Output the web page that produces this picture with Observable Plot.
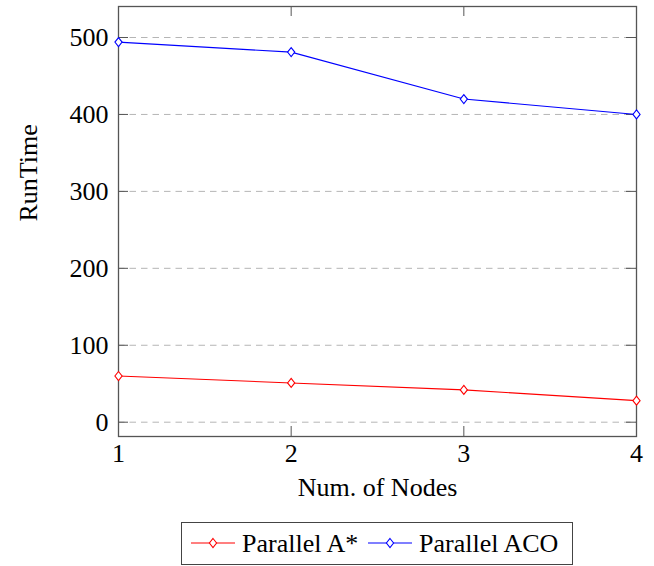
<!DOCTYPE html>
<html>
<head>
<meta charset="utf-8">
<script src="https://cdn.jsdelivr.net/npm/d3@7"></script>
<script src="https://cdn.jsdelivr.net/npm/@observablehq/plot@0.6"></script>
<style>
  html, body { margin: 0; padding: 0; background: white; }
  #legend {
    position: relative; margin-left: 181px; margin-top: 7px;
    width: 390px; height: 41px; border: 1px solid #444; box-sizing: content-box;
    font-family: 'Liberation Serif', 'Times New Roman', serif; font-size: 26px; color: black;
  }
  #legend .item { position: absolute; top: 0; height: 41px; display: flex; align-items: center; }
  #legend svg { display: block; }
  #legend span { line-height: 41px; font-family: 'Liberation Serif', serif; }
</style>
</head>
<body>
<div id="chart"></div>
<div id="legend"></div>
<script>
const nodes = [1, 2, 3, 4];
const parallelAStar = [60, 51, 42, 28];
const parallelACO = [494, 481, 420, 400];
const yTicks = [0, 100, 200, 300, 400, 500];
const xTicks = [1, 2, 3, 4];
const seriesNames = ["Parallel A*", "Parallel ACO"];
const seriesColors = ["#ff0000", "#0000ff"];

const data = nodes.flatMap((n, i) => [
  {n, v: parallelAStar[i], s: seriesNames[0]},
  {n, v: parallelACO[i], s: seriesNames[1]}
]);

const diamond = {
  draw(ctx) {
    ctx.moveTo(0, -4.5);
    ctx.lineTo(3.6, 0);
    ctx.lineTo(0, 4.5);
    ctx.lineTo(-3.6, 0);
    ctx.closePath();
  }
};

const FONT = "'Liberation Serif', 'Times New Roman', serif";
const W = 654, H = 515, ML = 118, MR = 18, MT = 6, MB = 79;
const innerW = W - ML - MR, innerH = H - MT - MB;
const tickLen = 10;

const chart = Plot.plot({
  width: W, height: H,
  marginLeft: ML, marginRight: MR, marginTop: MT, marginBottom: MB,
  style: {fontFamily: FONT, fontSize: "26px", color: "black", background: "white"},
  x: {domain: [1, 4]},
  y: {domain: [-18.6, 540.3]},
  color: {domain: seriesNames, range: seriesColors},
  marks: [
    Plot.gridY(yTicks, {stroke: "#b5b5b5", strokeOpacity: 1, strokeDasharray: "6.5,5"}),
    Plot.axisX(xTicks, {tickSize: 0, tickPadding: 7, label: null, fontSize: 26, fontFamily: FONT, fontVariant: "normal", tickFormat: d => String(d)}),
    Plot.axisY(yTicks, {tickSize: 0, tickPadding: 10, label: null, fontSize: 26, fontFamily: FONT, fontVariant: "normal", tickFormat: d => String(d)}),
    Plot.tickY(yTicks, {insetRight: innerW - tickLen, stroke: "#555"}),
    Plot.tickY(yTicks, {insetLeft: innerW - tickLen, stroke: "#555"}),
    Plot.tickX(xTicks, {insetTop: innerH - tickLen, stroke: "#555"}),
    Plot.tickX(xTicks, {insetBottom: innerH - tickLen, stroke: "#555"}),
    Plot.frame({stroke: "#555", strokeWidth: 1.3}),
    Plot.line(data, {x: "n", y: "v", z: "s", stroke: "s", strokeWidth: 1.1}),
    Plot.dot(data, {x: "n", y: "v", stroke: "s", symbol: diamond, fill: "white", strokeWidth: 1.1}),
    Plot.text(["Num. of Nodes"], {frameAnchor: "bottom", dy: 59, fontSize: 26, fontFamily: FONT}),
    Plot.text(["RunTime"], {frameAnchor: "left", dx: -90, rotate: -90, fontSize: 26, fontFamily: FONT})
  ]
});
document.getElementById("chart").append(chart);

// Legend
const legend = document.getElementById("legend");
const positions = [{line: 9, text: 60}, {line: 186, text: 237}];
seriesNames.forEach((name, i) => {
  const item = document.createElement("div");
  item.className = "item";
  item.style.left = positions[i].line + "px";
  const svgNS = "http://www.w3.org/2000/svg";
  const svg = document.createElementNS(svgNS, "svg");
  svg.setAttribute("width", 44);
  svg.setAttribute("height", 41);
  const ln = document.createElementNS(svgNS, "line");
  ln.setAttribute("x1", 0); ln.setAttribute("x2", 44);
  ln.setAttribute("y1", 20); ln.setAttribute("y2", 20);
  ln.setAttribute("stroke", seriesColors[i]); ln.setAttribute("stroke-width", 1.1);
  svg.append(ln);
  const p = document.createElementNS(svgNS, "path");
  p.setAttribute("d", "M22,15.5L25.6,20L22,24.5L18.4,20Z");
  p.setAttribute("fill", "white");
  p.setAttribute("stroke", seriesColors[i]); p.setAttribute("stroke-width", 1.1);
  svg.append(p);
  item.append(svg);
  legend.append(item);
  const t = document.createElement("div");
  t.className = "item";
  t.style.left = positions[i].text + "px";
  const sp = document.createElement("span");
  sp.textContent = name;
  t.append(sp);
  legend.append(t);
});
</script>
</body>
</html>
